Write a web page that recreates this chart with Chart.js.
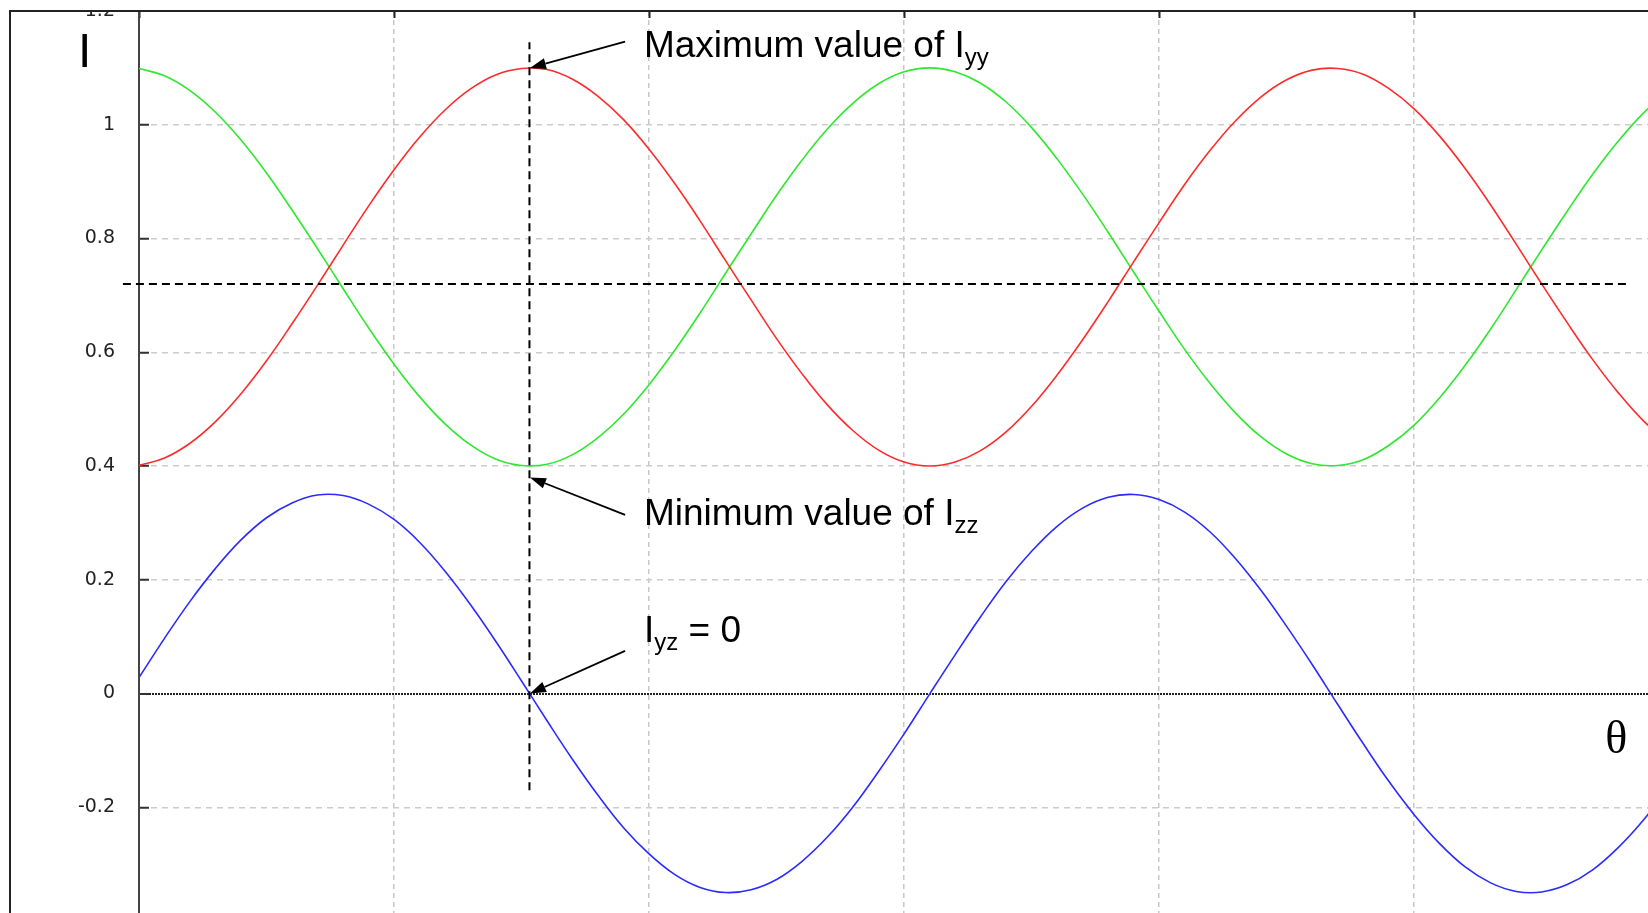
<!DOCTYPE html>
<html>
<head>
<meta charset="utf-8">
<title>Second moments of area against rotation angle</title>
<script src="https://cdn.jsdelivr.net/npm/chart.js@4.4.1/dist/chart.umd.min.js"></script>
<style>
  html, body { margin: 0; padding: 0; background: #fff; overflow: hidden; }
  #stage { position: relative; width: 1648px; height: 913px; overflow: hidden; }
  #plot { position: absolute; left: 10px; top: 0; }
  #mask { position: absolute; left: 0; top: 0; width: 100%; height: 10px; background: #fff; }
  #frame { position: absolute; left: 9px; top: 10px; right: -10px; bottom: -10px;
           border-left: 2px solid #222; border-top: 2px solid #222; pointer-events: none; }
</style>
</head>
<body>
<div id="stage">
  <canvas id="plot" width="1700" height="961" style="width:1700px;height:961px"></canvas>
  <div id="mask"></div>
  <div id="frame"></div>
</div>
<script>
// rotation angle (rad)
const theta = [
  0.0, 0.1, 0.2, 0.3, 0.4, 0.5, 0.6, 0.7, 0.8, 0.9,
  1.0, 1.1, 1.2, 1.3, 1.4, 1.5, 1.6, 1.7, 1.8, 1.9,
  2.0, 2.1, 2.2, 2.3, 2.4, 2.5, 2.6, 2.7, 2.8, 2.9,
  3.0, 3.1, 3.2, 3.3, 3.4, 3.5, 3.6, 3.7, 3.8, 3.9,
  4.0, 4.1, 4.2, 4.3, 4.4, 4.5, 4.6, 4.7, 4.8, 4.9,
  5.0, 5.1, 5.2, 5.3, 5.4, 5.5, 5.6, 5.7, 5.8, 5.9,
  6.0
];

const iyy = [
  0.401, 0.414, 0.440, 0.478, 0.527, 0.585, 0.650, 0.718, 0.788, 0.857,
  0.921, 0.978, 1.026, 1.063, 1.088, 1.099, 1.097, 1.080, 1.050, 1.009,
  0.957, 0.897, 0.831, 0.761, 0.692, 0.624, 0.562, 0.507, 0.462, 0.428,
  0.407, 0.400, 0.407, 0.427, 0.460, 0.505, 0.560, 0.622, 0.689, 0.759,
  0.828, 0.895, 0.955, 1.007, 1.049, 1.079, 1.096, 1.099, 1.089, 1.064,
  1.028, 0.980, 0.923, 0.859, 0.790, 0.720, 0.652, 0.587, 0.529, 0.479,
  0.441
];

const izz = [
  1.099, 1.086, 1.060, 1.022, 0.973, 0.915, 0.850, 0.782, 0.712, 0.643,
  0.579, 0.522, 0.474, 0.437, 0.412, 0.401, 0.403, 0.420, 0.450, 0.491,
  0.543, 0.603, 0.669, 0.739, 0.808, 0.876, 0.938, 0.993, 1.038, 1.072,
  1.093, 1.100, 1.093, 1.073, 1.040, 0.995, 0.940, 0.878, 0.811, 0.741,
  0.672, 0.605, 0.545, 0.493, 0.451, 0.421, 0.404, 0.401, 0.411, 0.436,
  0.472, 0.520, 0.577, 0.641, 0.710, 0.780, 0.848, 0.913, 0.971, 1.021,
  1.059
];

const iyz = [
  0.028, 0.097, 0.162, 0.220, 0.270, 0.309, 0.335, 0.349, 0.348, 0.333,
  0.306, 0.266, 0.215, 0.156, 0.091, 0.022, -0.048, -0.116, -0.179, -0.236,
  -0.282, -0.318, -0.341, -0.350, -0.345, -0.327, -0.295, -0.252, -0.199, -0.137,
  -0.071, -0.001, 0.068, 0.135, 0.197, 0.250, 0.294, 0.326, 0.345, 0.350,
  0.341, 0.319, 0.284, 0.237, 0.181, 0.118, 0.051, -0.019, -0.088, -0.154,
  -0.213, -0.264, -0.305, -0.333, -0.348, -0.349, -0.336, -0.310, -0.271, -0.222,
  -0.164
];

const yTicks = [-0.2, 0, 0.2, 0.4, 0.6, 0.8, 1, 1.2];
const xTicks = [0, 1, 2, 3, 4, 5, 6];

// dashed guides: the level where Iyy = Izz and the principal angle
const equalLevel = 0.72;
const equalSpan = [-0.063, 5.847];
const principalAngle = 1.531;
const principalSpan = [-0.17, 1.145];

// callouts, in axis units: text anchor, arrow tail, arrow tip
const callouts = [
  { text: 'Maximum value of I', sub: 'yy', rest: '', at: [1.98, 1.119], tail: [1.906, 1.146], tip: [1.533, 1.10] },
  { text: 'Minimum value of I', sub: 'zz', rest: '', at: [1.98, 0.296], tail: [1.906, 0.314], tip: [1.533, 0.38] },
  { text: 'I', sub: 'yz', rest: ' = 0', at: [1.98, 0.090], tail: [1.906, 0.075], tip: [1.533, 0.0] }
];

function pts(ys) {
  return theta.map(function (t, i) { return { x: t, y: ys[i] }; });
}

const SANS = '"Liberation Sans", Arial, sans-serif';

const calloutPlugin = {
  id: 'callouts',
  afterDatasetsDraw(chart) {
    const { ctx, chartArea, scales: { x, y } } = chart;
    ctx.save();
    ctx.fillStyle = '#000';
    ctx.strokeStyle = '#000';
    ctx.lineWidth = 1.8;
    ctx.textAlign = 'left';
    ctx.textBaseline = 'alphabetic';
    callouts.forEach(function (c) {
      const x0 = x.getPixelForValue(c.tail[0]), y0 = y.getPixelForValue(c.tail[1]);
      const x1 = x.getPixelForValue(c.tip[0]), y1 = y.getPixelForValue(c.tip[1]);
      const a = Math.atan2(y1 - y0, x1 - x0), ca = Math.cos(a), sa = Math.sin(a);
      const head = 16, half = 5.5;
      ctx.beginPath();
      ctx.moveTo(x0, y0);
      ctx.lineTo(x1 - head * ca, y1 - head * sa);
      ctx.stroke();
      ctx.beginPath();
      ctx.moveTo(x1, y1);
      ctx.lineTo(x1 - head * ca - half * sa, y1 - head * sa + half * ca);
      ctx.lineTo(x1 - head * ca + half * sa, y1 - head * sa - half * ca);
      ctx.closePath();
      ctx.fill();

      let tx = x.getPixelForValue(c.at[0]);
      const ty = y.getPixelForValue(c.at[1]);
      ctx.font = '37px ' + SANS;
      ctx.fillText(c.text, tx, ty);
      tx += ctx.measureText(c.text).width;
      ctx.font = '24px ' + SANS;
      ctx.fillText(c.sub, tx, ty + 8);
      tx += ctx.measureText(c.sub).width;
      if (c.rest) {
        ctx.font = '37px ' + SANS;
        ctx.fillText(c.rest, tx, ty);
      }
    });

    // axis symbols
    ctx.font = '48px ' + SANS;
    ctx.fillText('I', chartArea.left - 61, chartArea.top + 56);
    ctx.font = '46px "Liberation Serif", "Times New Roman", serif';
    ctx.fillText('θ', x.getPixelForValue(5.749), y.getPixelForValue(-0.105));
    ctx.restore();
  }
};

Chart.defaults.font.family = '"DejaVu Sans", sans-serif';

const curve = function (label, ys, color) {
  return {
    label: label, data: pts(ys), borderColor: color, backgroundColor: color,
    borderWidth: 1.6, pointRadius: 0, tension: 0.4, fill: false
  };
};

new Chart(document.getElementById('plot').getContext('2d'), {
  type: 'line',
  data: {
    datasets: [
      {
        label: 'principal angle',
        data: [{ x: principalAngle, y: principalSpan[0] }, { x: principalAngle, y: principalSpan[1] }],
        borderColor: '#000', borderWidth: 2, borderDash: [8, 5], pointRadius: 0, clip: false
      },
      {
        label: 'Iyy = Izz',
        data: [{ x: equalSpan[0], y: equalLevel }, { x: equalSpan[1], y: equalLevel }],
        borderColor: '#000', borderWidth: 2, borderDash: [8, 5], pointRadius: 0, clip: false
      },
      curve('Iyy', iyy, '#ff2b2b'),
      curve('Izz', izz, '#2ee82e'),
      curve('Iyz', iyz, '#2b2bff')
    ]
  },
  options: {
    responsive: false,
    devicePixelRatio: 1,
    animation: false,
    layout: { padding: { top: 11, left: 0, right: 0, bottom: 0 } },
    plugins: { legend: { display: false }, tooltip: { enabled: false } },
    scales: {
      x: {
        type: 'linear', position: 'bottom', min: 0, max: 6.16,
        afterBuildTicks: function (s) { s.ticks = xTicks.map(function (v) { return { value: v }; }); },
        afterFit: function (s) { s.height = 40; s.paddingLeft = 0; s.paddingRight = 0; },
        ticks: { display: false },
        grid: { color: '#c8c8c8', lineWidth: 1.5, tickLength: -7, tickColor: '#222', tickWidth: 2 },
        border: { display: false, dash: [5, 4] }
      },
      xTop: {
        type: 'linear', position: 'top', min: 0, max: 6.16,
        afterBuildTicks: function (s) { s.ticks = xTicks.map(function (v) { return { value: v }; }); },
        afterFit: function (s) { s.height = 0; s.paddingLeft = 0; s.paddingRight = 0; },
        ticks: { display: false },
        grid: { drawOnChartArea: false, tickLength: -7, tickColor: '#222', tickWidth: 2 },
        border: { display: false }
      },
      y: {
        type: 'linear', position: 'left', min: -0.4, max: 1.2,
        afterBuildTicks: function (s) { s.ticks = yTicks.map(function (v) { return { value: v }; }); },
        afterFit: function (s) { s.width = 129; s.paddingTop = 0; s.paddingBottom = 0; },
        ticks: {
          padding: 34, color: '#222', font: { size: 19 },
          callback: function (v) { return String(v); }
        },
        grid: {
          color: function (c) { return c.tick && c.tick.value === 0 ? '#222' : '#cccccc'; },
          lineWidth: function (c) { return c.tick && c.tick.value === 0 ? 2 : 1.5; },
          tickLength: -10, tickColor: '#333', tickWidth: 2
        },
        border: {
          display: true, color: '#444', width: 2,
          dash: function (c) { return c.tick && c.tick.value === 0 ? [2, 1] : [6, 5]; }
        }
      }
    }
  },
  plugins: [calloutPlugin]
});
</script>
</body>
</html>
